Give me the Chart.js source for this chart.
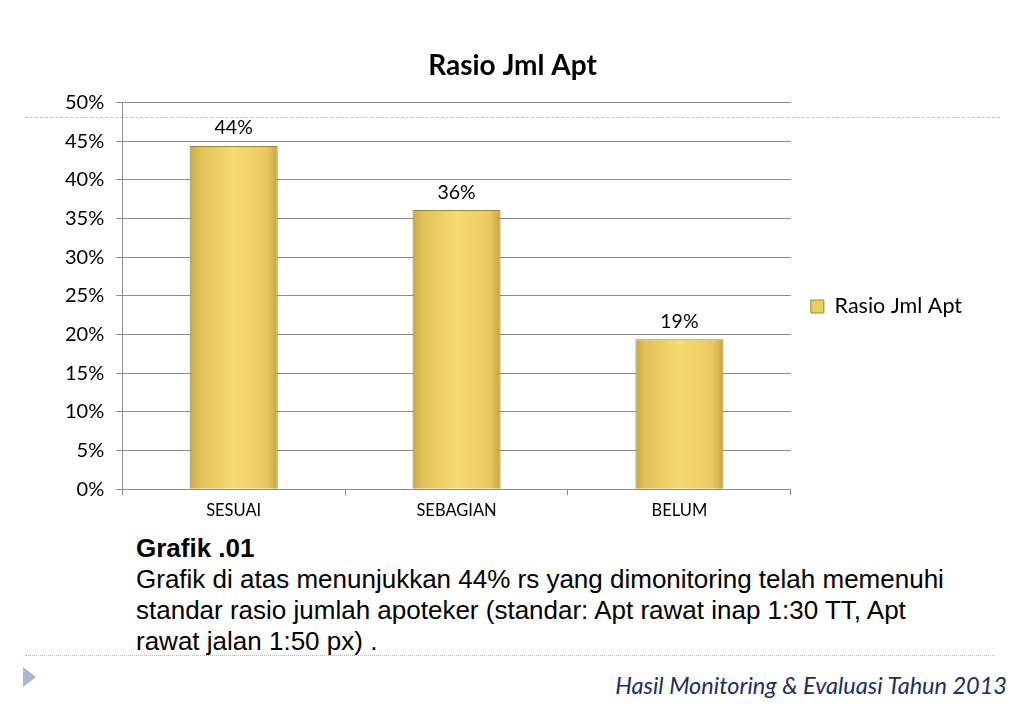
<!DOCTYPE html>
<html lang="id">
<head>
  <meta charset="UTF-8" />
  <title>Rasio Jml Apt</title>
  <script src="https://cdn.jsdelivr.net/npm/chart.js"></script>
  <style>
    body {
      margin: 0;
      width: 1023px;
      height: 708px;
      background: #fff;
      position: relative;
      overflow: hidden;
      font-family: "Liberation Sans", Arial, sans-serif;
    }
    .dash-top {
      position: absolute;
      left: 25px;
      top: 117px;
      width: 975px;
      border-top: 1px dashed #c4c4c4;
    }
    .dot-bottom {
      position: absolute;
      left: 25px;
      top: 655px;
      width: 970px;
      border-top: 1px dotted #b8b8b8;
    }
    #chart-wrap {
      position: absolute;
      left: 20px;
      top: 40px;
      width: 992px;
      height: 490px;
    }
    .caption {
      position: absolute;
      left: 136px;
      top: 533px;
      font-size: 26px;
      line-height: 31px;
      color: #000;
    }
    .triangle {
      position: absolute;
      left: 23px;
      top: 667px;
      width: 0;
      height: 0;
      border-top: 10px solid transparent;
      border-bottom: 10px solid transparent;
      border-left: 13px solid #a7b9cf;
    }
    .footer {
      position: absolute;
      right: 16px;
      top: 671px;
      font-family: Lato, sans-serif;
      font-style: italic;
      font-size: 23.5px;
      color: #1b2f5c;
    }
  </style>
</head>
<body>
  <div class="dash-top"></div>
  <div id="chart-wrap"><canvas id="chart"></canvas></div>
  <div class="caption">
    <b>Grafik .01</b><br />
    Grafik di atas menunjukkan 44% rs yang dimonitoring telah memenuhi<br />
    standar rasio jumlah apoteker (standar: Apt rawat inap 1:30 TT, Apt<br />
    rawat jalan 1:50 px) .
  </div>
  <div class="dot-bottom"></div>
  <div class="triangle"></div>
  <div class="footer">Hasil Monitoring &amp; Evaluasi Tahun 2013</div>

  <script>
    const categories = ['SESUAI', 'SEBAGIAN', 'BELUM'];
    const rasioValues = [44.4, 36.1, 19.4];
    const seriesName = 'Rasio Jml Apt';

    const FONT = 'Lato, "Open Sans", sans-serif';
    const BAR_PCT = 0.395;

    // horizontal shading across each bar, like the original 3D-ish fill
    function barGradient(context) {
      const chart = context.chart;
      const { ctx, chartArea, scales } = chart;
      if (!chartArea || !scales.x || context.dataIndex === undefined) return '#efcf5f';
      const cx = scales.x.getPixelForValue(context.dataIndex);
      const half = (chartArea.width / categories.length) * BAR_PCT / 2;
      const g = ctx.createLinearGradient(cx - half, 0, cx + half, 0);
      g.addColorStop(0, '#c8a842');
      g.addColorStop(0.12, '#e2c259');
      g.addColorStop(0.5, '#f6db72');
      g.addColorStop(0.88, '#e9c95e');
      g.addColorStop(1, '#c4a43e');
      return g;
    }

    // value labels above each bar
    const valueLabels = {
      id: 'valueLabels',
      afterDatasetsDraw(chart) {
        const { ctx } = chart;
        const meta = chart.getDatasetMeta(0);
        ctx.save();
        ctx.font = '19.5px ' + FONT;
        ctx.fillStyle = '#000';
        ctx.textAlign = 'center';
        ctx.textBaseline = 'bottom';
        meta.data.forEach((bar, i) => {
          ctx.fillText(Math.round(rasioValues[i]) + '%', bar.x, bar.y - 8);
        });
        ctx.restore();
      }
    };

    const ctx = document.getElementById('chart').getContext('2d');
    const chart = new Chart(ctx, {
      type: 'bar',
      data: {
        labels: categories,
        datasets: [{
          label: seriesName,
          data: rasioValues,
          backgroundColor: barGradient,
          borderColor: '#9c8638',
          borderWidth: 1,
          categoryPercentage: 1,
          barPercentage: BAR_PCT
        }]
      },
      options: {
        responsive: true,
        maintainAspectRatio: false,
        animation: false,
        layout: { padding: { left: 33, right: 40, bottom: 3 } },
        plugins: {
          title: {
            display: true,
            text: seriesName,
            color: '#000',
            font: { family: FONT, size: 28, weight: 'bold' },
            padding: { top: 9, bottom: 20 }
          },
          legend: {
            position: 'right',
            title: {
              display: true,
              text: ' ',
              font: { size: 10 },
              padding: { top: 0, bottom: 34 }
            },
            labels: {
              color: '#000',
              font: { family: FONT, size: 21.5 },
              boxWidth: 13,
              boxHeight: 13,
              padding: 20,
              generateLabels(chart) {
                return [{
                  text: seriesName,
                  fillStyle: '#eccd5f',
                  strokeStyle: '#9c8638',
                  fontColor: '#000',
                  lineWidth: 1,
                  datasetIndex: 0
                }];
              }
            }
          },
          tooltip: { enabled: false }
        },
        scales: {
          x: {
            grid: {
              display: true,
              drawOnChartArea: false,
              drawTicks: true,
              tickLength: 6,
              color: '#8c8c8c'
            },
            border: { color: '#8c8c8c' },
            ticks: {
              color: '#000',
              font: { family: FONT, size: 16.5 },
              padding: 6
            }
          },
          y: {
            min: 0,
            max: 50,
            grid: {
              color: '#8c8c8c',
              tickLength: 6
            },
            border: { color: '#8c8c8c' },
            ticks: {
              stepSize: 5,
              color: '#000',
              font: { family: FONT, size: 20 },
              padding: 12,
              callback: v => v + '%'
            }
          }
        }
      },
      plugins: [valueLabels]
    });
  </script>
</body>
</html>
